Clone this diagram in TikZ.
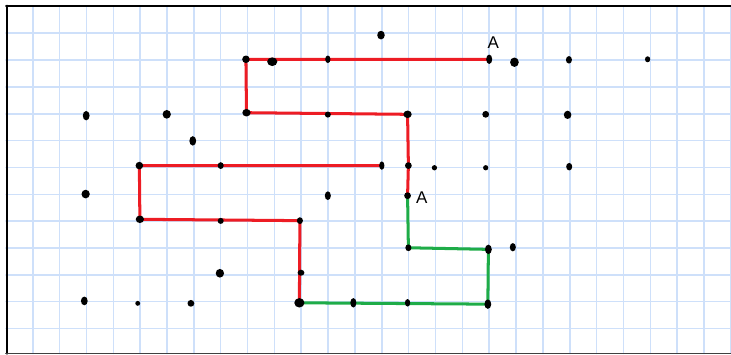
\documentclass[tikz,border=0pt]{standalone}
\usepackage{fontspec}
\setmainfont{Liberation Sans}
\definecolor{gridblue}{RGB}{206,224,250}
\definecolor{pathred}{RGB}{237,28,36}
\definecolor{pathgreen}{RGB}{30,172,72}
\tikzset{
  gridln/.style={gridblue,line width=0.8pt},
  redpath/.style={pathred,line width=1.6pt},
  greenpath/.style={pathgreen,line width=1.6pt},
  dot/.style={fill=black}
}
\begin{document}
\begin{tikzpicture}[x=0.5cm,y=-0.5cm,line cap=round,line join=round,font=\fontsize{9}{11}\selectfont]
\useasboundingbox (-0.22,-0.238) rectangle (27.006,12.983);
% squared paper
\foreach \i in {1,...,27} \draw[gridln] (\i,0) -- (\i,12.93);
\foreach \j in {1,...,12} \draw[gridln] (0,\j) -- (27.01,\j);
\draw[line width=0.7pt] (0,-0.015) -- (27.01,-0.015);
\draw[line width=1.4pt] (0.04,-0.02) -- (0.04,12.93);
\draw[black!75,line width=0.9pt] (0,12.93) -- (27.01,12.93);
% corners of the route
\coordinate (a1) at (18,1.97);
\coordinate (p1) at (8.94,1.97);
\coordinate (p2) at (8.96,3.96);
\coordinate (p3) at (14.96,4.02);
\coordinate (p4) at (14.99,5.93);
\coordinate (a2) at (14.96,7.05);
\coordinate (g1) at (14.99,8.99);
\coordinate (g2) at (17.97,9.05);
\coordinate (g3) at (17.95,11.09);
\coordinate (g4) at (14.96,11.04);
\coordinate (g5) at (12.94,11.04);
\coordinate (q0) at (10.93,11.04);
\coordinate (q1) at (10.99,9.92);
\coordinate (q2) at (10.95,7.98);
\coordinate (q3) at (8.0,7.99);
\coordinate (q4) at (4.99,7.93);
\coordinate (q5) at (4.97,5.93);
\coordinate (q6) at (8.0,5.93);
\coordinate (q7) at (14.0,5.93);
% route
\draw[redpath] (a1) -- (p1) -- (p2) -- (p3) -- (p4) -- (a2);
\draw[greenpath] (a2) -- (g1) -- (g2) -- (g3) -- (q0);
\draw[redpath] (q0) -- (q2) -- (q4) -- (q5) -- (q7);
% dots on the route
\fill[dot] (a1) ellipse [x radius=1.6pt,y radius=2.5pt];
\fill[dot] (p1) ellipse [x radius=2.0pt,y radius=2.0pt];
\fill[dot] (p2) ellipse [x radius=2.2pt,y radius=2.0pt];
\fill[dot] (p3) ellipse [x radius=2.2pt,y radius=2.0pt];
\fill[dot] (p4) ellipse [x radius=1.8pt,y radius=1.8pt];
\fill[dot] (a2) ellipse [x radius=1.8pt,y radius=1.8pt];
\fill[dot] (g1) ellipse [x radius=1.6pt,y radius=1.8pt];
\fill[dot] (g2) ellipse [x radius=1.8pt,y radius=2.5pt];
\fill[dot] (g3) ellipse [x radius=1.8pt,y radius=2.5pt];
\fill[dot] (g4) ellipse [x radius=1.4pt,y radius=2.0pt];
\fill[dot] (g5) ellipse [x radius=1.6pt,y radius=2.5pt];
\fill[dot] (q0) ellipse [x radius=2.7pt,y radius=2.5pt];
\fill[dot] (q1) ellipse [x radius=1.8pt,y radius=1.6pt];
\fill[dot] (q2) ellipse [x radius=1.6pt,y radius=1.8pt];
\fill[dot] (q3) ellipse [x radius=1.6pt,y radius=1.6pt];
\fill[dot] (q4) ellipse [x radius=2.2pt,y radius=2.0pt];
\fill[dot] (q5) ellipse [x radius=2.0pt,y radius=2.0pt];
\fill[dot] (q6) ellipse [x radius=1.6pt,y radius=1.8pt];
\fill[dot] (q7) ellipse [x radius=1.4pt,y radius=2.2pt];
\fill[dot] (11.99,1.97) ellipse [x radius=1.4pt,y radius=2.0pt];
\fill[dot] (11.99,4.03) ellipse [x radius=1.6pt,y radius=1.6pt];
% loose dots
\fill[dot] (2.99,4.07) ellipse [x radius=1.8pt,y radius=2.5pt];
\fill[dot] (5.99,4.02) ellipse [x radius=2.2pt,y radius=2.3pt];
\fill[dot] (6.96,5.01) ellipse [x radius=1.8pt,y radius=2.5pt];
\fill[dot] (13.97,1.07) ellipse [x radius=2.0pt,y radius=2.3pt];
\fill[dot] (9.92,2.06) ellipse [x radius=2.7pt,y radius=2.3pt];
\fill[dot] (18.94,2.08) ellipse [x radius=2.3pt,y radius=2.5pt];
\fill[dot] (17.87,4.02) ellipse [x radius=1.8pt,y radius=1.8pt];
\fill[dot] (15.96,6.01) ellipse [x radius=1.4pt,y radius=1.4pt];
\fill[dot] (17.87,6.01) ellipse [x radius=1.4pt,y radius=1.4pt];
\fill[dot] (20.97,1.99) ellipse [x radius=1.6pt,y radius=2.0pt];
\fill[dot] (23.9,1.97) ellipse [x radius=1.4pt,y radius=1.6pt];
\fill[dot] (20.92,4.04) ellipse [x radius=2.0pt,y radius=2.2pt];
\fill[dot] (20.98,5.97) ellipse [x radius=1.6pt,y radius=2.0pt];
\fill[dot] (2.97,6.99) ellipse [x radius=2.2pt,y radius=2.3pt];
\fill[dot] (7.97,9.94) ellipse [x radius=2.2pt,y radius=2.3pt];
\fill[dot] (2.92,10.97) ellipse [x radius=1.8pt,y radius=2.3pt];
\fill[dot] (4.91,11.06) ellipse [x radius=1.3pt,y radius=1.3pt];
\fill[dot] (6.89,11.06) ellipse [x radius=1.8pt,y radius=1.8pt];
\fill[dot] (11.99,7.05) ellipse [x radius=1.6pt,y radius=2.3pt];
\fill[dot] (18.88,8.97) ellipse [x radius=1.6pt,y radius=2.2pt];
% labels
\node (lblA) at (18.15,1.36) {A};
\node (lblB) at (15.49,7.12) {A};
\end{tikzpicture}
\end{document}
